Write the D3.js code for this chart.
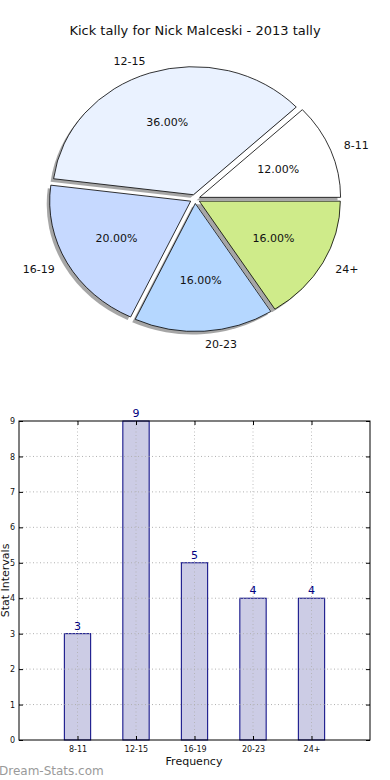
<!DOCTYPE html>
<html><head><meta charset="utf-8">
<script src="https://cdn.jsdelivr.net/npm/d3@7"></script>
<style>body{margin:0;background:#fff;}svg{display:block;font-family:"DejaVu Sans",sans-serif;}</style>
</head><body>
<svg id="c" width="390" height="780"></svg>
<script>
const categories = ["8-11","12-15","16-19","20-23","24+"];
const values = [3,9,5,4,4];
const pieColors = ["#ffffff","#eaf2ff","#c6d9ff","#b5d7ff","#cfeb8a"];
const yTicks = [0,1,2,3,4,5,6,7,8,9];
const title = "Kick tally for Nick Malceski - 2013 tally";

const svg = d3.select("#c");
svg.append("text").attr("x",195).attr("y",35).attr("text-anchor","middle")
  .attr("font-size",13).attr("fill","#111").text(title);

// Pie
const cx=195, cy=199, rx=141, ry=128, expl=0.035;
const total = d3.sum(values);
const pie = d3.pie().sort(null).startAngle(Math.PI/2).endAngle(Math.PI/2-2*Math.PI);
const arcs = pie(values);
const arcGen = d3.arc().innerRadius(0).outerRadius(1);
const pg = svg.append("g");
arcs.forEach((a,i)=>{
  const m = (a.startAngle+a.endAngle)/2;
  const th = Math.PI/2 - m;
  const wx = cx + expl*rx*Math.cos(th), wy = cy - expl*ry*Math.sin(th);
  a.wx=wx; a.wy=wy; a.th=th;
  pg.append("path").attr("d",arcGen(a))
    .attr("transform",`translate(${wx-3},${wy+3}) scale(${rx},${ry})`)
    .attr("fill","#808080").attr("opacity",0.7);
});
arcs.forEach((a,i)=>{
  pg.append("path").attr("d",arcGen(a))
    .attr("transform",`translate(${a.wx},${a.wy}) scale(${rx},${ry})`)
    .attr("fill",pieColors[i]).attr("stroke","#000").attr("stroke-width",0.8)
    .attr("vector-effect","non-scaling-stroke");
});
arcs.forEach((a,i)=>{
  const c=Math.cos(a.th), s=Math.sin(a.th);
  const lx=a.wx+1.1*rx*c, ly=a.wy-1.1*ry*s;
  pg.append("text").attr("x",lx).attr("y",ly).attr("dy","0.35em")
    .attr("text-anchor", c>0?"start":"end").attr("font-size",11).attr("fill","#111")
    .text(categories[i]);
  const px=a.wx+0.6*rx*c, py=a.wy-0.6*ry*s;
  pg.append("text").attr("x",px).attr("y",py).attr("dy","0.35em")
    .attr("text-anchor","middle").attr("font-size",11).attr("fill","#111")
    .text((values[i]/total*100).toFixed(2)+"%");
});

// Bar chart
const L=19,R=370,T=421,B=740;
const x = d3.scaleLinear().domain([-1,5]).range([L,R]);
const y = d3.scaleLinear().domain([0,9]).range([B,T]);
const bw = 0.45;
const bg = svg.append("g");
bg.selectAll("rect.bar").data(values).join("rect").attr("class","bar")
  .attr("x",(d,i)=>x(i-bw/2)).attr("width",x(bw)-x(0))
  .attr("y",d=>y(d)).attr("height",d=>y(0)-y(d))
  .attr("fill","#ccccE5").attr("stroke","#000080").attr("stroke-width",1);
bg.selectAll("line.gy").data(yTicks.slice(1,-1)).join("line")
  .attr("x1",L).attr("x2",R).attr("y1",d=>y(d)).attr("y2",d=>y(d))
  .attr("stroke","#b0b0b0").attr("stroke-dasharray","1,2.5").attr("stroke-width",1);
bg.selectAll("line.gx").data(categories).join("line")
  .attr("x1",(d,i)=>x(i)).attr("x2",(d,i)=>x(i)).attr("y1",T).attr("y2",B)
  .attr("stroke","#b0b0b0").attr("stroke-dasharray","1,2.5").attr("stroke-width",1).attr("opacity",0.8);
bg.append("rect").attr("x",L).attr("y",T).attr("width",R-L).attr("height",B-T)
  .attr("fill","none").attr("stroke","#000").attr("stroke-width",1);
const yAx = d3.axisLeft(y).tickValues(yTicks).tickSizeInner(-4).tickSizeOuter(0).tickPadding(4);
const ga = bg.append("g").attr("transform",`translate(${L},0)`).call(yAx);
ga.select(".domain").remove();
ga.selectAll("text").attr("font-size",8).attr("fill","#111").attr("font-family","DejaVu Sans");
const yAxR = d3.axisRight(y).tickValues(yTicks).tickSizeInner(-4).tickSizeOuter(0).tickFormat("");
const gr = bg.append("g").attr("transform",`translate(${R},0)`).call(yAxR);
gr.select(".domain").remove();
const xAx = d3.axisBottom(x).tickValues([0,1,2,3,4]).tickFormat((d)=>categories[d]).tickSizeInner(-4).tickSizeOuter(0).tickPadding(6);
const gx = bg.append("g").attr("transform",`translate(0,${B})`).call(xAx);
gx.select(".domain").remove();
gx.selectAll("text").attr("font-size",8).attr("fill","#111").attr("font-family","DejaVu Sans");
const xAxT = d3.axisTop(x).tickValues([0,1,2,3,4]).tickSizeInner(-4).tickSizeOuter(0).tickFormat("");
const gt = bg.append("g").attr("transform",`translate(0,${T})`).call(xAxT);
gt.select(".domain").remove();
bg.selectAll("text.vl").data(values).join("text").attr("class","vl")
  .attr("x",(d,i)=>x(i)).attr("y",d=>y(d)-4).attr("text-anchor","middle")
  .attr("font-size",11).attr("fill","#000080").text(d=>d);
svg.append("text").attr("x",194).attr("y",765).attr("text-anchor","middle")
  .attr("font-size",11).attr("fill","#111").text("Frequency");
svg.append("text").attr("transform",`translate(9,${(T+B)/2}) rotate(-90)`).attr("text-anchor","middle")
  .attr("font-size",11).attr("fill","#111").text("Stat Intervals");
svg.append("text").attr("x",-1).attr("y",775).attr("font-size",12)
  .attr("fill","#9a9a9a").text("Dream-Stats.com");
</script>
</body></html>
